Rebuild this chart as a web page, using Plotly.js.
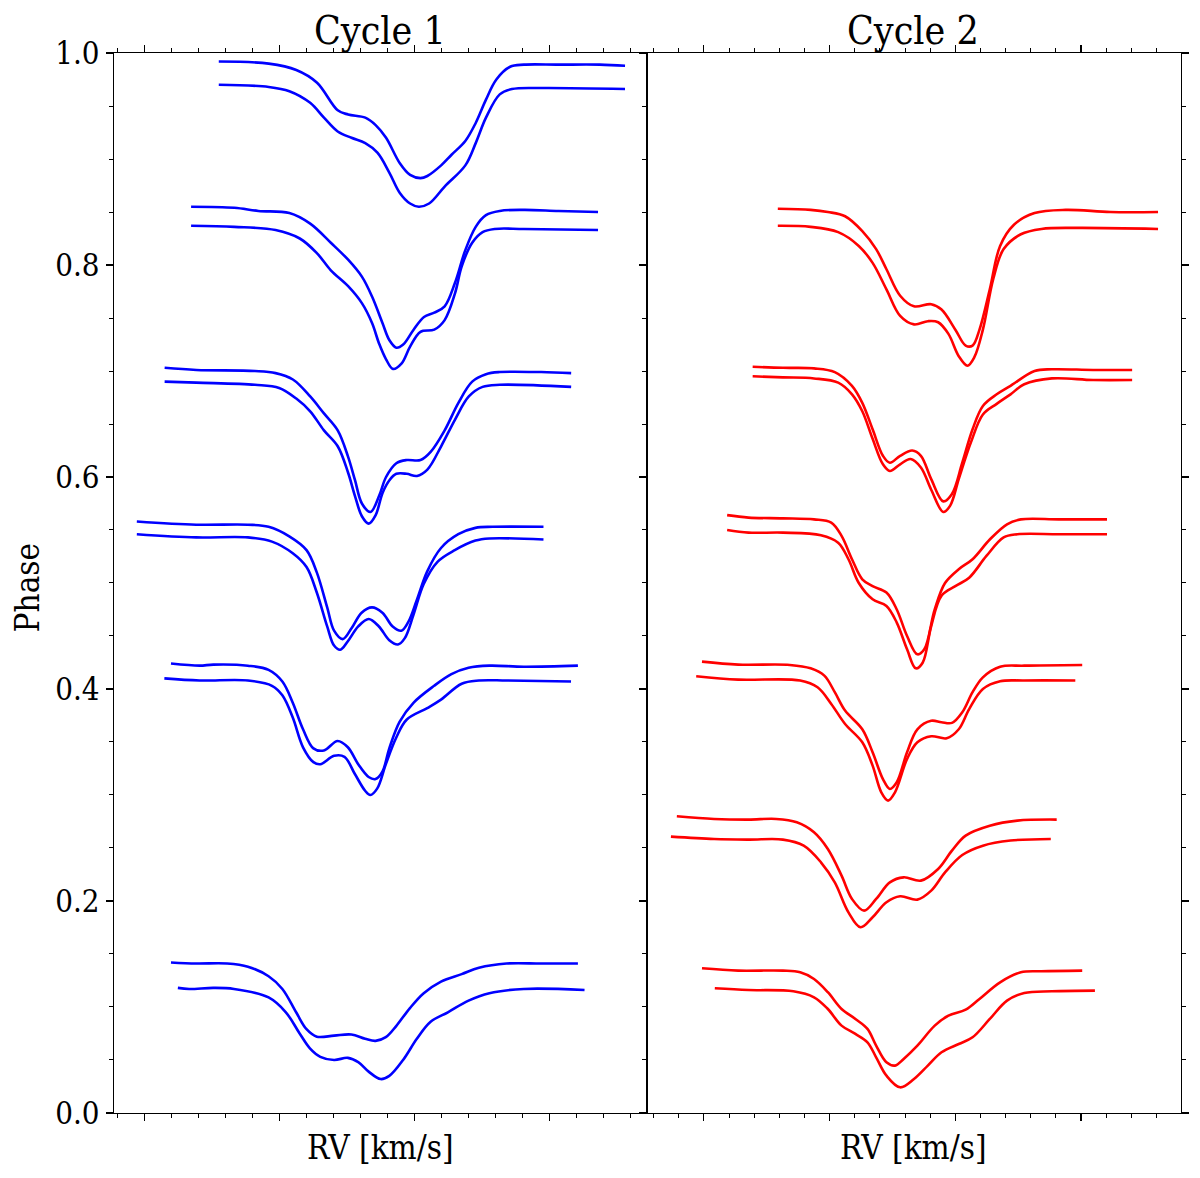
<!DOCTYPE html>
<html>
<head>
<meta charset="utf-8">
<script src="https://cdn.plot.ly/plotly-3.0.1.min.js"></script>
<style>
  html, body { margin: 0; padding: 0; background: #fff; }
  #chart { width: 1200px; height: 1178px; }
</style>
</head>
<body>
<div id="chart"></div>
<script>
// Cycle 1 line profiles (RV in km/s, y = phase offset + profile)
let c1a1_rv = [-144.8,-107.8,-87.4,-72.0,-56.7,-49.0,-36.3,-28.6,-20.9,-10.7,-3.1,4.6,9.7,19.9,27.6,37.8,45.5,53.1,60.8,71.0,81.2,106.8,137.4,156.1];
let c1a1_ph = [0.992,0.990,0.984,0.972,0.946,0.942,0.939,0.932,0.920,0.896,0.885,0.882,0.884,0.894,0.904,0.917,0.934,0.956,0.975,0.987,0.989,0.989,0.989,0.988];
let c1a2_rv = [-144.8,-107.8,-92.5,-77.1,-66.9,-56.7,-46.5,-36.3,-27.3,-18.4,-10.7,-3.1,3.3,11.0,22.5,37.8,45.5,53.1,63.3,72.3,94.0,156.1];
let c1a2_ph = [0.970,0.968,0.964,0.953,0.939,0.926,0.920,0.915,0.906,0.887,0.868,0.858,0.855,0.858,0.874,0.894,0.915,0.939,0.961,0.966,0.967,0.966];

let c1b1_rv = [-165.3,-133.3,-115.5,-92.5,-77.1,-61.8,-49.0,-38.8,-31.2,-23.5,-18.4,-13.3,-8.2,-0.5,7.2,14.8,22.5,30.1,37.8,45.5,53.1,63.3,81.2,106.8,136.1];
let c1b1_ph = [0.855,0.854,0.851,0.849,0.839,0.821,0.805,0.789,0.770,0.745,0.729,0.722,0.725,0.739,0.751,0.755,0.761,0.783,0.814,0.836,0.847,0.851,0.852,0.851,0.850];
let c1b2_rv = [-165.3,-133.3,-102.7,-84.8,-72.0,-61.8,-49.0,-38.8,-31.2,-26.1,-20.9,-15.8,-9.5,-3.1,4.6,14.8,22.5,30.1,35.2,42.9,50.6,59.5,81.2,136.1];
let c1b2_ph = [0.837,0.836,0.833,0.825,0.811,0.795,0.780,0.764,0.745,0.726,0.711,0.702,0.707,0.723,0.737,0.739,0.748,0.773,0.799,0.821,0.831,0.834,0.834,0.833];

let c1c1_rv = [-184.9,-161.4,-118.0,-102.7,-89.9,-77.1,-66.9,-56.7,-49.0,-43.9,-38.8,-32.4,-26.1,-20.9,-13.3,-5.6,4.6,12.3,22.5,32.7,42.9,53.1,63.3,94.0,116.2];
let c1c1_ph = [0.703,0.701,0.700,0.698,0.692,0.676,0.660,0.644,0.619,0.597,0.575,0.567,0.582,0.600,0.613,0.616,0.616,0.624,0.644,0.670,0.690,0.697,0.699,0.699,0.698];
let c1c2_rv = [-184.9,-161.4,-118.0,-100.1,-87.4,-77.1,-66.9,-56.7,-49.0,-43.9,-38.8,-33.7,-28.6,-23.5,-18.4,-13.3,-5.6,2.0,9.7,19.9,30.1,40.4,50.6,63.3,116.2];
let c1c2_ph = [0.690,0.689,0.687,0.684,0.674,0.662,0.644,0.629,0.604,0.582,0.563,0.556,0.564,0.585,0.597,0.603,0.603,0.601,0.607,0.629,0.654,0.676,0.685,0.687,0.685];

let c1d1_rv = [-205.5,-161.5,-123.2,-107.9,-92.6,-79.8,-72.2,-64.5,-59.4,-53.0,-46.6,-39.0,-31.3,-23.6,-16.0,-9.6,-4.5,1.9,9.6,19.8,32.6,45.3,58.1,95.7];
let c1d1_ph = [0.558,0.555,0.555,0.553,0.544,0.531,0.510,0.477,0.455,0.447,0.457,0.472,0.477,0.472,0.459,0.455,0.463,0.484,0.511,0.533,0.546,0.552,0.553,0.553];
let c1d2_rv = [-205.5,-161.5,-123.2,-105.4,-90.0,-79.8,-72.2,-64.5,-59.4,-54.8,-49.2,-41.5,-33.8,-26.2,-18.5,-12.1,-7.0,-0.6,7.0,17.2,30.0,45.3,55.6,95.7];
let c1d2_ph = [0.546,0.543,0.543,0.539,0.528,0.515,0.491,0.459,0.441,0.437,0.445,0.459,0.466,0.459,0.446,0.442,0.448,0.470,0.499,0.520,0.531,0.540,0.542,0.541];

let c1e1_rv = [-180.2,-159.0,-148.8,-123.2,-107.9,-97.7,-90.0,-82.4,-74.7,-67.0,-56.8,-49.2,-41.5,-33.8,-28.7,-23.6,-18.5,-10.9,-0.6,14.7,27.5,40.2,55.6,81.1,121.2];
let c1e1_ph = [0.424,0.422,0.423,0.422,0.418,0.407,0.387,0.362,0.344,0.342,0.351,0.345,0.329,0.317,0.315,0.322,0.344,0.369,0.387,0.403,0.414,0.420,0.422,0.421,0.422];
let c1e2_rv = [-185.1,-159.0,-123.2,-105.4,-97.7,-90.0,-82.4,-74.7,-69.6,-59.4,-51.7,-44.1,-36.4,-32.6,-27.5,-21.1,-13.4,-5.7,9.6,19.8,35.1,47.9,68.3,116.1];
let c1e2_ph = [0.410,0.408,0.408,0.403,0.394,0.373,0.345,0.331,0.329,0.337,0.336,0.320,0.304,0.300,0.306,0.329,0.354,0.371,0.382,0.390,0.405,0.408,0.408,0.407];

let c1f1_rv = [-180.2,-161.5,-138.6,-123.2,-107.9,-97.7,-87.5,-79.8,-72.2,-59.4,-46.6,-36.4,-28.7,-21.1,-13.4,-3.2,7.0,19.8,35.1,47.9,68.3,93.9,121.2];
let c1f1_ph = [0.142,0.141,0.141,0.138,0.129,0.117,0.095,0.079,0.072,0.073,0.074,0.070,0.068,0.0715,0.082,0.099,0.113,0.124,0.131,0.137,0.141,0.141,0.141];
let c1f2_rv = [-175.1,-166.7,-148.8,-133.5,-107.9,-95.1,-84.9,-77.3,-69.6,-59.4,-49.2,-41.5,-33.8,-24.9,-18.5,-8.3,1.9,12.1,24.9,40.2,55.6,81.1,126.1];
let c1f2_ph = [0.118,0.117,0.118,0.117,0.109,0.095,0.075,0.061,0.053,0.050,0.052,0.048,0.039,0.032,0.035,0.050,0.070,0.086,0.095,0.106,0.113,0.117,0.116];

// Cycle 2 line profiles
let c2a1_rv = [-141.2,-115.1,-101.4,-87.7,-74.0,-63.0,-54.8,-43.9,-32.9,-19.2,-11.0,0,8.2,13.7,19.2,27.4,35.6,46.6,63.0,87.7,123.4,161.2];
let c2a1_ph = [0.853,0.852,0.850,0.846,0.832,0.815,0.796,0.771,0.761,0.763,0.758,0.739,0.724,0.724,0.739,0.777,0.818,0.838,0.849,0.852,0.850,0.850];
let c2a2_rv = [-141.2,-115.1,-93.2,-76.8,-65.8,-54.8,-43.9,-32.9,-21.9,-13.7,-5.5,2.7,9.6,15.1,21.9,30.2,38.4,52.1,68.5,95.9,161.2];
let c2a2_ph = [0.837,0.836,0.831,0.818,0.802,0.777,0.752,0.744,0.747,0.746,0.735,0.714,0.705,0.713,0.739,0.787,0.815,0.829,0.834,0.835,0.834];

let c2b1_rv = [-161.2,-137.1,-112.4,-95.9,-82.2,-74.0,-65.8,-57.6,-52.1,-43.9,-34.3,-27.4,-19.2,-9.6,-2.7,5.5,13.7,21.9,32.9,43.9,63.0,76.8,109.6,140.6];
let c2b1_ph = [0.704,0.703,0.7025,0.699,0.686,0.670,0.645,0.620,0.6135,0.620,0.625,0.620,0.598,0.577,0.584,0.6135,0.645,0.667,0.678,0.686,0.700,0.7016,0.701,0.701];
let c2b2_rv = [-161.2,-137.1,-112.4,-93.2,-82.2,-74.0,-65.8,-57.6,-52.1,-43.9,-35.6,-27.4,-19.2,-9.6,-4.1,2.7,12.3,21.9,32.9,43.9,54.8,76.8,109.6,140.6];
let c2b2_ph = [0.695,0.694,0.693,0.689,0.678,0.662,0.636,0.612,0.6057,0.612,0.617,0.609,0.588,0.567,0.573,0.598,0.6324,0.659,0.669,0.678,0.6875,0.693,0.6915,0.6915];

let c2c1_rv = [-181.5,-164.5,-137.1,-112.4,-98.7,-90.5,-82.2,-74.0,-65.8,-54.8,-46.6,-38.4,-30.2,-24.7,-16.4,-8.2,2.7,13.7,27.4,41.1,52.1,82.2,120.6];
let c2c1_ph = [0.564,0.5617,0.561,0.560,0.557,0.5444,0.5224,0.5035,0.497,0.491,0.475,0.450,0.4327,0.4374,0.475,0.500,0.513,0.5224,0.541,0.5554,0.560,0.560,0.560];
let c2c2_rv = [-181.5,-164.5,-137.1,-106.9,-93.2,-85.0,-76.8,-65.8,-54.8,-46.6,-38.4,-31.5,-26.0,-19.2,-11.0,0,11.0,24.7,38.4,49.3,82.2,120.6];
let c2c2_ph = [0.550,0.5475,0.5475,0.545,0.538,0.5224,0.500,0.4846,0.4783,0.4626,0.4374,0.4195,0.4248,0.4594,0.488,0.497,0.505,0.5255,0.543,0.546,0.546,0.546];

let c2d1_rv = [-201.5,-172.7,-131.6,-115.1,-104.2,-95.9,-87.7,-74.0,-65.8,-57.6,-52.1,-46.6,-38.4,-30.2,-19.2,-11.0,-2.7,5.5,13.7,21.9,35.6,54.8,100.9];
let c2d1_ph = [0.4258,0.423,0.4227,0.4195,0.4126,0.397,0.3796,0.362,0.3403,0.315,0.3057,0.312,0.3403,0.362,0.370,0.3686,0.368,0.378,0.397,0.411,0.421,0.422,0.4227];
let c2d2_rv = [-206.1,-172.7,-123.4,-109.6,-98.7,-87.7,-74.0,-65.8,-58.9,-53.5,-48.0,-38.4,-30.2,-19.2,-6.9,2.7,11.0,21.9,35.6,54.8,95.4];
let c2d2_ph = [0.412,0.4088,0.408,0.4016,0.3859,0.367,0.3497,0.3277,0.3025,0.2947,0.3025,0.334,0.3497,0.3554,0.3535,0.362,0.381,0.400,0.4073,0.408,0.408];

let c2e1_rv = [-221.5,-191.9,-164.5,-142.5,-126.1,-112.4,-101.4,-90.5,-82.2,-72.6,-63.0,-52.1,-41.1,-27.4,-13.7,-2.7,8.2,27.4,49.3,80.6];
let c2e1_ph = [0.2799,0.2774,0.2768,0.2774,0.2742,0.2648,0.249,0.2239,0.2019,0.1909,0.2019,0.2176,0.2223,0.2192,0.2302,0.2475,0.2617,0.271,0.2758,0.2768];
let c2e2_rv = [-226.2,-191.9,-164.5,-137.1,-120.6,-106.9,-95.9,-85.0,-75.4,-65.8,-54.8,-43.9,-30.2,-19.2,-8.2,5.5,21.9,43.9,75.9];
let c2e2_ph = [0.2607,0.2585,0.2579,0.2579,0.2522,0.2365,0.2176,0.1893,0.1752,0.1846,0.1988,0.2044,0.2013,0.2098,0.227,0.2434,0.2522,0.257,0.2585];

let c2f1_rv = [-201.5,-172.7,-137.1,-123.4,-112.4,-101.4,-90.5,-79.5,-69.9,-63.0,-54.8,-48.0,-41.1,-30.2,-16.4,-5.5,8.2,19.2,35.6,52.1,68.5,100.9];
let c2f1_ph = [0.1365,0.1343,0.1343,0.1327,0.1264,0.1139,0.0981,0.0887,0.0793,0.0635,0.0478,0.0447,0.051,0.0635,0.0824,0.0918,0.0975,0.1076,0.1233,0.1327,0.1337,0.1343];
let c2f2_rv = [-191.3,-164.5,-128.8,-112.4,-101.4,-90.5,-79.5,-69.9,-63.0,-54.8,-43.9,-32.9,-21.9,-11.0,2.7,13.7,27.4,41.1,54.8,76.8,111.0];
let c2f2_ph = [0.1176,0.116,0.1148,0.1091,0.0981,0.0824,0.0746,0.0667,0.0525,0.0352,0.0242,0.0321,0.0447,0.0573,0.0651,0.0714,0.0887,0.106,0.1132,0.1148,0.1154];

let phaseTicks = [0, 0.2, 0.4, 0.6, 0.8, 1.0];
let phaseLabels = ['0.0', '0.2', '0.4', '0.6', '0.8', '1.0'];

let cycle1 = [
  [c1a1_rv, c1a1_ph], [c1a2_rv, c1a2_ph],
  [c1b1_rv, c1b1_ph], [c1b2_rv, c1b2_ph],
  [c1c1_rv, c1c1_ph], [c1c2_rv, c1c2_ph],
  [c1d1_rv, c1d1_ph], [c1d2_rv, c1d2_ph],
  [c1e1_rv, c1e1_ph], [c1e2_rv, c1e2_ph],
  [c1f1_rv, c1f1_ph], [c1f2_rv, c1f2_ph]
];
let cycle2 = [
  [c2a1_rv, c2a1_ph], [c2a2_rv, c2a2_ph],
  [c2b1_rv, c2b1_ph], [c2b2_rv, c2b2_ph],
  [c2c1_rv, c2c1_ph], [c2c2_rv, c2c2_ph],
  [c2d1_rv, c2d1_ph], [c2d2_rv, c2d2_ph],
  [c2e1_rv, c2e1_ph], [c2e2_rv, c2e2_ph],
  [c2f1_rv, c2f1_ph], [c2f2_rv, c2f2_ph]
];

function makeTraces(list, color, xa, ya) {
  return list.map(function (p) {
    return {
      x: p[0],
      y: p[1],
      type: 'scatter',
      mode: 'lines',
      line: {color: color, width: 2.6, shape: 'spline', smoothing: 1},
      xaxis: xa,
      yaxis: ya,
      hoverinfo: 'skip',
      showlegend: false
    };
  });
}

let data = makeTraces(cycle1, '#0000ff', 'x', 'y').concat(makeTraces(cycle2, '#ff0000', 'x2', 'y2'));

let serif = 'DejaVu Serif Condensed, DejaVu Serif, serif';
let yDomain = [0.0552, 0.955];

let baseAxis = {
  showline: true,
  linecolor: 'black',
  linewidth: 1.2,
  ticks: 'outside',
  tickcolor: 'black',
  tickwidth: 1.2,
  ticklen: 7,
  showgrid: false,
  zeroline: false,
  fixedrange: true
};

let layout = {
  width: 1200,
  height: 1178,
  margin: {l: 0, r: 0, t: 0, b: 0},
  paper_bgcolor: 'white',
  plot_bgcolor: 'white',
  font: {family: serif, color: 'black'},
  xaxis: Object.assign({}, baseAxis, {
    domain: [0.095, 0.5392],
    range: [-222.4, 172.4],
    tick0: 0, dtick: 100,
    showticklabels: false,
    mirror: 'ticks',
    anchor: 'y',
    minor: {dtick: 20, ticklen: 4, ticks: 'outside', tickcolor: 'black', tickwidth: 1}
  }),
  yaxis: Object.assign({}, baseAxis, {
    domain: yDomain,
    range: [0, 1],
    tickvals: phaseTicks,
    ticktext: phaseLabels,
    tickfont: {size: 31, family: serif},
    mirror: true,
    anchor: 'x',
    minor: {dtick: 0.05, ticklen: 4, ticks: 'outside', tickcolor: 'black', tickwidth: 1}
  }),
  xaxis2: Object.assign({}, baseAxis, {
    domain: [0.5392, 0.984],
    range: [-245.2, 179.3],
    tick0: 0, dtick: 100,
    showticklabels: false,
    mirror: 'ticks',
    anchor: 'y2',
    minor: {dtick: 20, ticklen: 4, ticks: 'outside', tickcolor: 'black', tickwidth: 1}
  }),
  yaxis2: Object.assign({}, baseAxis, {
    domain: yDomain,
    range: [0, 1],
    tickvals: phaseTicks,
    showticklabels: false,
    mirror: 'ticks',
    anchor: 'x2',
    minor: {dtick: 0.05, ticklen: 4, ticks: 'outside', tickcolor: 'black', tickwidth: 1}
  }),
  annotations: [
    {text: 'Cycle 1', x: 0.317, y: 0.9745, xref: 'paper', yref: 'paper', showarrow: false,
      xanchor: 'center', yanchor: 'middle', font: {size: 39, family: serif}},
    {text: 'Cycle 2', x: 0.7612, y: 0.9745, xref: 'paper', yref: 'paper', showarrow: false,
      xanchor: 'center', yanchor: 'middle', font: {size: 39, family: serif}},
    {text: 'RV [km/s]', x: 0.317, y: 0.0255, xref: 'paper', yref: 'paper', showarrow: false,
      xanchor: 'center', yanchor: 'middle', font: {size: 33, family: serif}},
    {text: 'RV [km/s]', x: 0.7612, y: 0.0255, xref: 'paper', yref: 'paper', showarrow: false,
      xanchor: 'center', yanchor: 'middle', font: {size: 33, family: serif}},
    {text: 'Phase', x: 0.0225, y: 0.5013, xref: 'paper', yref: 'paper', showarrow: false,
      xanchor: 'center', yanchor: 'middle', textangle: -90, font: {size: 33, family: serif}}
  ]
};

Plotly.newPlot('chart', data, layout, {staticPlot: true, displayModeBar: false});
</script>
</body>
</html>
